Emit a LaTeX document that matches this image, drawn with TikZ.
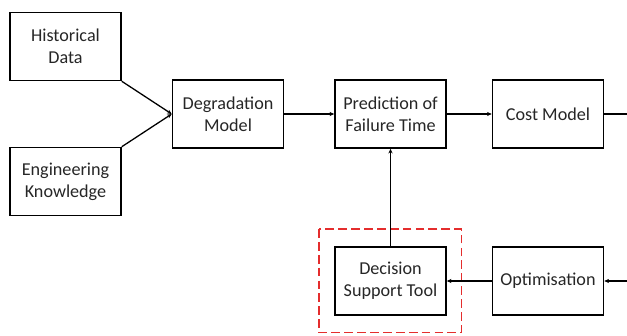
\documentclass[tikz,border=0pt]{standalone}
\usepackage{fontspec}
\setmainfont{Carlito}
\usetikzlibrary{arrows.meta}
\definecolor{framered}{RGB}{228,45,45}

\begin{document}
\begin{tikzpicture}[x=0.03cm,y=-0.03cm,
    blk/.style={draw,line width=1.3pt,minimum width=3.33cm,minimum height=2.04cm,
      align=center,font=\fontsize{15.5}{19}\selectfont,text=black!85},
    link/.style={line width=1.1pt,-{Stealth[length=4pt,width=3.5pt]}}]
  \useasboundingbox (0,0) rectangle (627,335);
  \node[blk] (hist) at (65.5,46.5) {Historical\\Data};
  \node[blk] (eng) at (65.5,181.5) {Engineering\\Knowledge};
  \node[blk] (deg) at (228,114) {Degradation\\Model};
  \node[blk] (pred) at (390.5,114) {Prediction of\\Failure Time};
  \node[blk] (cost) at (548,114) {Cost Model};
  \node[blk] (dst) at (390.5,281) {Decision\\Support Tool};
  \node[blk] (opt) at (548,281) {Optimisation};
  \coordinate (costout) at (627,114);
  \coordinate (optin) at (627,281);
  % red frame round the decision support tool
  \draw[framered,line width=1.3pt,dash pattern=on 7.5pt off 3.5pt] (319,229) rectangle (461.5,332.5);
  \draw[link] (hist.south east) -- (deg.west);
  \draw[link] (eng.north east) -- (deg.west);
  \draw[link] (deg) -- (pred);
  \draw[link] (pred) -- (cost);
  \draw[line width=1.1pt] (cost) -- (costout);
  \draw[link] (optin) -- (opt);
  \draw[link] (opt) -- (dst);
  \draw[link] (dst) -- (pred);
\end{tikzpicture}
\end{document}
